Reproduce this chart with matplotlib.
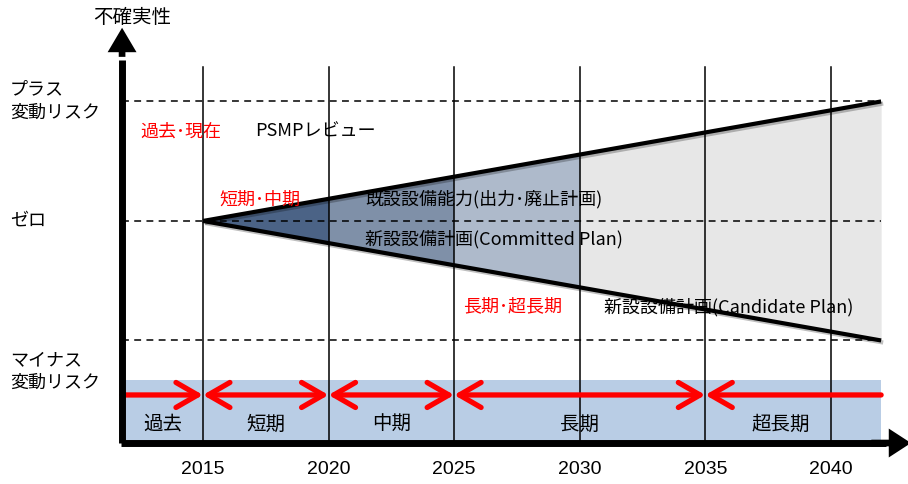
import matplotlib
matplotlib.use("Agg")
import matplotlib.pyplot as plt
from matplotlib.patches import FancyArrowPatch, Rectangle
import matplotlib.patheffects as pe
import numpy as np

JP = ['Noto Sans CJK JP', 'DejaVu Sans']

# timeline
years = [2015, 2020, 2025, 2030, 2035, 2040]
axis_start = 2011.78          # where the vertical axis sits on the time scale
cone_start, cone_end = 2015, 2042
cone_spread = 1.0             # uncertainty reached at cone_end

# uncertainty levels (dashed guides)
levels = [1, 0, -1]
level_labels = ['プラス\n変動リスク', 'ゼロ', 'マイナス\n変動リスク']
level_label_y = [1.0, 0.0, -1.26]

# shaded parts of the cone
fill_spans = [2015, 2020, 2025, 2030]
fill_colors = ['#4b6386', '#7f90a8', '#aebacb']
future_span = (2030, 2042)
future_color = '#e7e7e7'

# period band at the bottom
period_bounds = [axis_start, 2015, 2020, 2025, 2035, 2042]
period_labels = ['過去', '短期', '中期', '長期', '超長期']
period_label_x = [2013.4, 2017.5, 2022.5, 2030, 2038]

# annotations: (x, y, text, color)
notes = [
    (2012.49, 0.75, '過去･現在', 'red'),
    (2017.07, 0.75, 'PSMPレビュー', 'black'),
    (2015.64, 0.18, '短期･中期', 'red'),
    (2021.45, 0.18, '既設設備能力(出力･廃止計画)', 'black'),
    (2021.45, -0.15, '新設設備計画(Committed Plan)', 'black'),
    (2025.35, -0.71, '長期･超長期', 'red'),
    (2030.96, -0.72, '新設設備計画(Candidate Plan)', 'black'),
]

band_top, band_bottom = -1.33, -1.858
arrow_y = -1.456


def cone(x):
    return cone_spread * (np.asarray(x, float) - cone_start) / (cone_end - cone_start)


fig = plt.figure(figsize=(9.08, 4.84), dpi=100)
ax = fig.add_axes([0, 0, 1, 1])
ax.set_xlim(2006.92, 2043.07)
ax.set_ylim(-2.201, 1.849)
ax.axis('off')

# bottom band
ax.add_patch(Rectangle((axis_start, band_bottom), cone_end - axis_start, band_top - band_bottom,
                       facecolor='#b9cde5', edgecolor='none', zorder=1))

# cone fills
xs = np.linspace(*future_span, 50)
ax.fill_between(xs, -cone(xs), cone(xs), color=future_color, lw=0, zorder=1)
for a, b, c in zip(fill_spans[:-1], fill_spans[1:], fill_colors):
    xs = np.linspace(a, b, 50)
    ax.fill_between(xs, -cone(xs), cone(xs), color=c, lw=0, zorder=1.5)

# dashed level guides
for lv in levels:
    ax.plot([axis_start, cone_end], [lv, lv], color='black', lw=1.1,
            dashes=(4.5, 3.5), zorder=2)

# vertical year lines
for yr in years:
    ax.plot([yr, yr], [1.289, band_bottom], color='black', lw=1.1, zorder=2)
    ax.text(yr, -2.08, str(yr), ha='center', va='center', fontsize=14,
            family='Liberation Sans', zorder=5)

# cone edges
shadow = [pe.SimpleLineShadow(offset=(1.5, -1.5), alpha=0.25), pe.Normal()]
xs = np.array([cone_start, cone_end])
ax.plot(xs, cone(xs), color='black', lw=3, solid_capstyle='butt', zorder=3, path_effects=shadow)
ax.plot(xs, -cone(xs), color='black', lw=3, solid_capstyle='butt', zorder=3, path_effects=shadow)

# red period arrows
for i, (a, b) in enumerate(zip(period_bounds[:-1], period_bounds[1:])):
    if i == 0:
        style = '->'
    elif i == len(period_bounds) - 2:
        style = '<-'
    else:
        style = '<->'
    arr = FancyArrowPatch((a, arrow_y), (b, arrow_y),
                          arrowstyle=style + ',head_length=0.78,head_width=0.45',
                          mutation_scale=20, lw=3.8, color='red',
                          capstyle='round', joinstyle='round',
                          shrinkA=0, shrinkB=0, zorder=4)
    ax.add_patch(arr)
for x, lab in zip(period_label_x, period_labels):
    ax.text(x, -1.70, lab, ha='center', va='center', fontsize=14, family=JP, zorder=5)

# axes arrows
ax.plot([axis_start - 0.06, 2042.2], [band_bottom, band_bottom], color='black', lw=5,
        solid_capstyle='butt', zorder=4)
ax.add_patch(FancyArrowPatch((2041.5, band_bottom), (2043.3, band_bottom),
                             arrowstyle='simple,head_length=1.0,head_width=1.3,tail_width=0.3',
                             mutation_scale=16, color='black', lw=0, zorder=4))
ax.plot([axis_start, axis_start], [band_bottom, 1.35], color='black', lw=5,
        solid_capstyle='butt', zorder=4)
ax.add_patch(FancyArrowPatch((axis_start, 1.35), (axis_start, 1.64),
                             arrowstyle='simple,head_length=1.1,head_width=1.3,tail_width=0.3',
                             mutation_scale=16, color='black', lw=0, zorder=4))
ax.text(2012.17, 1.70, '不確実性', ha='center', va='center', fontsize=14, family=JP)

# level labels
for y, lab in zip(level_label_y, level_labels):
    ax.text(2007.32, y, lab, ha='left', va='center', fontsize=13, family=JP,
            linespacing=1.4)

for x, y, t, c in notes:
    ax.text(x, y, t, ha='left', va='center', fontsize=13, color=c, family=JP, zorder=5)

fig.savefig('out.png', dpi=100)
